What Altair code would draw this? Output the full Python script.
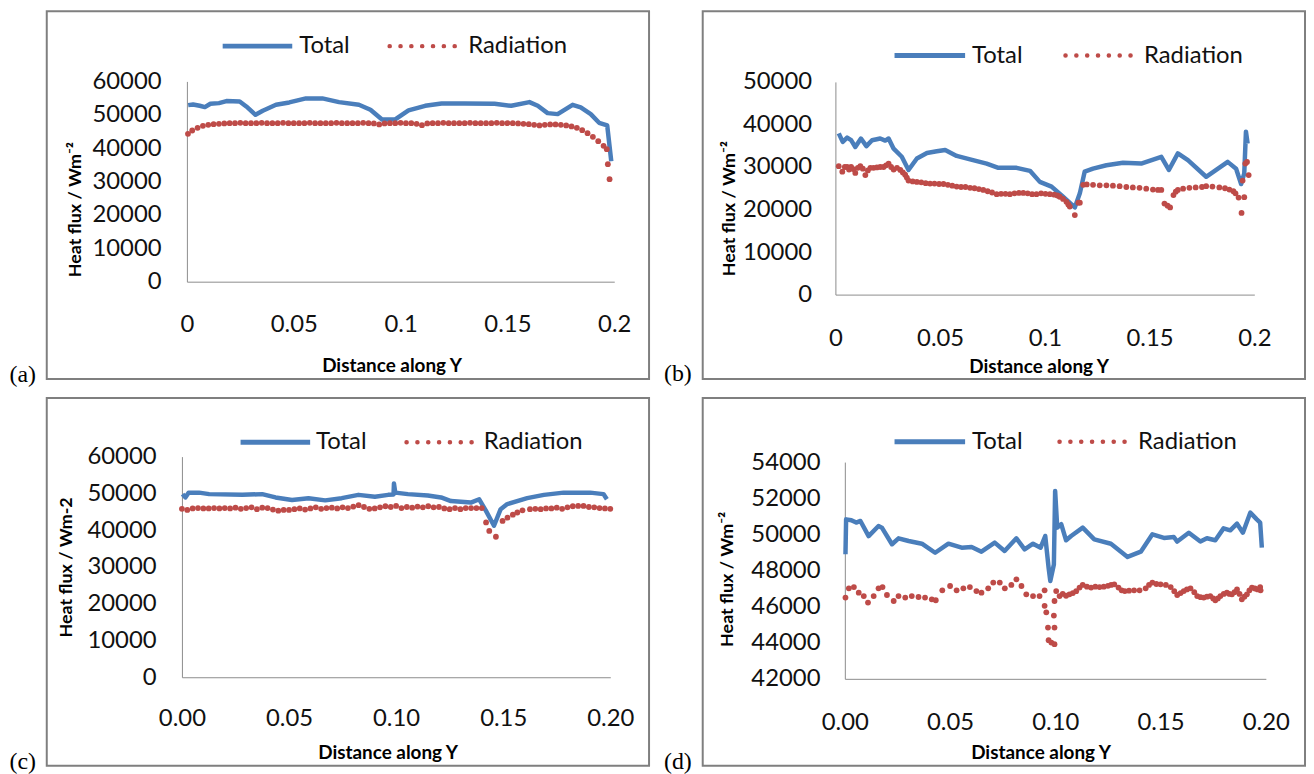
import altair as alt
import pandas as pd

BLUE = "#4A7EBB"
RED = "#BE4B48"
AXC = "#8C8C8C"
FONT = "Lato"

# ---------------- data (x = distance along Y, y = heat flux) ----------------
total_a = [(0.0006, 52900), (0.0029, 53100), (0.0060, 52700), (0.0084, 52300), (0.0110, 53300),
           (0.0150, 53500), (0.0185, 54100), (0.0247, 54000), (0.0278, 52500), (0.0321, 50000),
           (0.0355, 51200), (0.0417, 53000), (0.0479, 53700), (0.0557, 54900), (0.0634, 54900),
           (0.0712, 53800), (0.0805, 53000), (0.0859, 51500), (0.0913, 48600), (0.0975, 48600),
           (0.1037, 51300), (0.1115, 52700), (0.1192, 53400), (0.1300, 53400), (0.1440, 53300),
           (0.1518, 52700), (0.1603, 53800), (0.1642, 52700), (0.1688, 50500), (0.1735, 50200),
           (0.1805, 53000), (0.1843, 52200), (0.1890, 50200), (0.1929, 47600), (0.1967, 46800),
           (0.1986, 36100)]

rad_a = [(0.0005, 44300), (0.0025, 45300), (0.0050, 46100), (0.0075, 46700), (0.0100, 47000),
         (0.0125, 47200), (0.0150, 47300), (0.0175, 47400), (0.0200, 47500), (0.0225, 47500),
         (0.0250, 47600), (0.0275, 47500), (0.0300, 47500), (0.0325, 47500), (0.0350, 47600),
         (0.0375, 47500), (0.0400, 47500), (0.0425, 47500), (0.0450, 47600), (0.0475, 47500),
         (0.0500, 47500), (0.0525, 47500), (0.0550, 47500), (0.0575, 47600), (0.0600, 47500),
         (0.0625, 47500), (0.0650, 47500), (0.0675, 47500), (0.0700, 47600), (0.0725, 47500),
         (0.0750, 47500), (0.0775, 47500), (0.0800, 47500), (0.0825, 47600), (0.0850, 47500),
         (0.0875, 47400), (0.0900, 47100), (0.0925, 47400), (0.0950, 47500), (0.0975, 47500),
         (0.1000, 47600), (0.1025, 47500), (0.1050, 47500), (0.1075, 47300), (0.1100, 46900),
         (0.1125, 47400), (0.1150, 47500), (0.1175, 47500), (0.1200, 47600), (0.1225, 47500),
         (0.1250, 47500), (0.1275, 47500), (0.1300, 47500), (0.1325, 47600), (0.1350, 47500),
         (0.1375, 47500), (0.1400, 47500), (0.1425, 47500), (0.1450, 47600), (0.1475, 47500),
         (0.1500, 47500), (0.1525, 47500), (0.1550, 47400), (0.1575, 47300), (0.1600, 47200),
         (0.1625, 47000), (0.1650, 46800), (0.1675, 47000), (0.1700, 47100), (0.1725, 47100),
         (0.1750, 47000), (0.1775, 46800), (0.1800, 46500), (0.1825, 46100), (0.1850, 45400),
         (0.1875, 44500), (0.1900, 43400), (0.1925, 42100), (0.1950, 40700), (0.1965, 39700),
         (0.1970, 35200), (0.1978, 30700)]

total_b = [(0.0016, 37900), (0.0035, 35900), (0.0056, 36900), (0.0075, 36300), (0.0095, 34700),
           (0.0122, 36700), (0.0148, 34900), (0.0175, 36300), (0.0214, 36700), (0.0238, 36200),
           (0.0254, 36700), (0.0278, 34300), (0.0317, 32400), (0.0349, 29300), (0.0389, 32000),
           (0.0437, 33300), (0.0484, 33700), (0.0524, 34000), (0.0579, 32600), (0.0643, 31800),
           (0.0722, 30800), (0.0778, 29800), (0.0865, 29800), (0.0929, 29100), (0.0976, 26500),
           (0.1032, 25400), (0.1087, 23000), (0.1143, 20500), (0.1167, 23800), (0.1190, 28900),
           (0.1230, 29600), (0.1294, 30400), (0.1373, 31000), (0.1460, 30800), (0.1556, 32400),
           (0.1592, 29300), (0.1635, 33200), (0.1683, 31600), (0.1770, 27700), (0.1818, 29300),
           (0.1873, 31200), (0.1913, 29600), (0.1937, 26000), (0.1952, 28500), (0.1960, 38300),
           (0.1968, 35500)]

rad_b = [(0.0016, 30200), (0.0033, 28900), (0.0045, 30000), (0.0056, 30000), (0.0065, 29400),
         (0.0075, 30000), (0.0085, 29500), (0.0095, 28600), (0.0107, 29800), (0.0119, 30200),
         (0.0131, 29600), (0.0143, 28100), (0.0155, 29200), (0.0167, 29800), (0.0182, 29800),
         (0.0198, 29900), (0.0214, 30000), (0.0230, 30000), (0.0242, 30400), (0.0254, 30800),
         (0.0266, 30000), (0.0278, 29400), (0.0294, 29800), (0.0310, 29300), (0.0322, 28700),
         (0.0333, 28200), (0.0341, 27500), (0.0349, 26800), (0.0369, 26600), (0.0389, 26500),
         (0.0410, 26400), (0.0431, 26200), (0.0452, 26100), (0.0473, 26100), (0.0495, 26000),
         (0.0516, 26000), (0.0537, 25800), (0.0558, 25600), (0.0579, 25400), (0.0600, 25300),
         (0.0621, 25300), (0.0643, 25100), (0.0664, 25000), (0.0685, 24800), (0.0706, 24600),
         (0.0727, 24300), (0.0748, 24000), (0.0770, 23600), (0.0791, 23700), (0.0812, 23700),
         (0.0833, 23600), (0.0855, 23800), (0.0876, 23900), (0.0897, 23900), (0.0918, 23800),
         (0.0939, 23600), (0.0960, 23600), (0.0982, 23800), (0.1003, 23700), (0.1024, 23600),
         (0.1045, 23500), (0.1060, 23300), (0.1071, 23000), (0.1087, 22500), (0.1103, 21800),
         (0.1112, 21200), (0.1119, 20700), (0.1143, 18700), (0.1160, 21600), (0.1167, 21600),
         (0.1183, 25800), (0.1200, 25900), (0.1230, 25800), (0.1262, 25700), (0.1294, 25700),
         (0.1325, 25600), (0.1357, 25500), (0.1389, 25300), (0.1420, 25200), (0.1452, 25100),
         (0.1484, 24900), (0.1516, 24700), (0.1540, 24600), (0.1556, 24600), (0.1571, 21400),
         (0.1586, 20900), (0.1598, 20500), (0.1614, 23400), (0.1625, 24200), (0.1635, 24600),
         (0.1660, 24900), (0.1690, 25100), (0.1720, 25200), (0.1750, 25300), (0.1770, 25500),
         (0.1800, 25400), (0.1833, 25200), (0.1860, 25000), (0.1881, 24700), (0.1900, 24300),
         (0.1910, 23800), (0.1925, 22800), (0.1939, 19200), (0.1944, 26800), (0.1952, 22900),
         (0.1957, 30800), (0.1965, 31200), (0.1973, 28100)]

total_c = [(0.0003, 49800), (0.0016, 48900), (0.0031, 50200), (0.0080, 50200), (0.0127, 49800),
           (0.0282, 49600), (0.0375, 49800), (0.0437, 48900), (0.0514, 48200), (0.0591, 48700),
           (0.0669, 48100), (0.0746, 48700), (0.0824, 49600), (0.0901, 49100), (0.0963, 49600),
           (0.0988, 49700), (0.0990, 52700), (0.0996, 50200), (0.1055, 49800), (0.1148, 49400),
           (0.1210, 48900), (0.1256, 47900), (0.1349, 47500), (0.1388, 48400), (0.1419, 45300),
           (0.1457, 41200), (0.1488, 45700), (0.1519, 47100), (0.1612, 48700), (0.1690, 49600),
           (0.1782, 50200), (0.1906, 50200), (0.1968, 49800), (0.1984, 48400)]

rad_c = [(0.0000, 45800), (0.0025, 45500), (0.0050, 45900), (0.0075, 46000), (0.0100, 45900),
         (0.0125, 45900), (0.0150, 46000), (0.0175, 45900), (0.0200, 46000), (0.0225, 45900),
         (0.0250, 46100), (0.0275, 45800), (0.0300, 46000), (0.0325, 46200), (0.0350, 45700),
         (0.0375, 46100), (0.0400, 46000), (0.0425, 45600), (0.0450, 45300), (0.0475, 45500),
         (0.0500, 45500), (0.0525, 45700), (0.0550, 45900), (0.0575, 45600), (0.0600, 45900),
         (0.0625, 46200), (0.0650, 45800), (0.0675, 46000), (0.0700, 46100), (0.0725, 45900),
         (0.0750, 46200), (0.0775, 46000), (0.0800, 46400), (0.0825, 46800), (0.0850, 46300),
         (0.0875, 45800), (0.0900, 45900), (0.0925, 46200), (0.0950, 46500), (0.0975, 46300),
         (0.1000, 46600), (0.1025, 46000), (0.1050, 46300), (0.1075, 46100), (0.1100, 46400),
         (0.1125, 46200), (0.1150, 46500), (0.1175, 46200), (0.1200, 46300), (0.1225, 45900),
         (0.1250, 45700), (0.1275, 46000), (0.1300, 45700), (0.1325, 46000), (0.1350, 46000),
         (0.1375, 46000), (0.1400, 46000), (0.1420, 42100), (0.1435, 39800), (0.1466, 38200),
         (0.1497, 42500), (0.1520, 43400), (0.1545, 44200), (0.1566, 44800), (0.1590, 45400),
         (0.1625, 45700), (0.1650, 45800), (0.1675, 45700), (0.1700, 45900), (0.1725, 45900),
         (0.1750, 46100), (0.1775, 45800), (0.1800, 46200), (0.1825, 46500), (0.1850, 46600),
         (0.1875, 46600), (0.1900, 46300), (0.1925, 46200), (0.1950, 46000), (0.1975, 45900),
         (0.2000, 45800)]

total_d = [(0.0003, 48900), (0.0006, 50830), (0.0031, 50780), (0.0054, 50650), (0.0074, 50740),
           (0.0113, 49900), (0.0160, 50460), (0.0176, 50370), (0.0224, 49450), (0.0255, 49780),
           (0.0303, 49630), (0.0366, 49480), (0.0429, 48980), (0.0492, 49480), (0.0555, 49260),
           (0.0602, 49300), (0.0649, 49040), (0.0712, 49540), (0.0759, 49080), (0.0815, 49780),
           (0.0854, 49170), (0.0894, 49480), (0.0930, 49260), (0.0952, 49910), (0.0968, 48150),
           (0.0976, 47420), (0.0993, 48330), (0.0999, 52400), (0.1009, 50370), (0.1028, 50560),
           (0.1051, 49670), (0.1075, 49910), (0.1130, 50370), (0.1185, 49720), (0.1264, 49480),
           (0.1343, 48750), (0.1406, 49040), (0.1461, 50000), (0.1516, 49800), (0.1563, 49850),
           (0.1579, 49600), (0.1634, 50090), (0.1689, 49600), (0.1720, 49780), (0.1760, 49670),
           (0.1799, 50330), (0.1831, 50220), (0.1863, 50590), (0.1891, 50090), (0.1926, 51200),
           (0.1957, 50830), (0.1973, 50650), (0.1981, 49260)]

rad_d = [(0.0003, 46500), (0.0019, 47010), (0.0043, 47080), (0.0066, 46770), (0.0090, 46580),
         (0.0110, 46220), (0.0137, 46580), (0.0160, 47010), (0.0179, 47080), (0.0200, 46640),
         (0.0232, 46310), (0.0255, 46580), (0.0287, 46500), (0.0318, 46580), (0.0350, 46530),
         (0.0381, 46500), (0.0413, 46400), (0.0432, 46350), (0.0463, 46900), (0.0500, 47140),
         (0.0531, 46900), (0.0563, 47010), (0.0594, 47080), (0.0625, 46860), (0.0649, 46770),
         (0.0681, 47010), (0.0705, 47330), (0.0736, 47330), (0.0760, 47010), (0.0791, 47200),
         (0.0815, 47510), (0.0839, 47140), (0.0862, 46680), (0.0894, 46580), (0.0925, 46580),
         (0.0949, 46900), (0.0949, 46040), (0.0957, 45680), (0.0965, 44840), (0.0968, 44140),
         (0.0981, 44010), (0.0996, 43920), (0.0996, 44840), (0.0993, 45500), (0.0996, 46310),
         (0.1004, 46860), (0.1020, 46580), (0.1035, 46700), (0.1051, 46600), (0.1067, 46680),
         (0.1083, 46750), (0.1099, 46850), (0.1115, 47050), (0.1130, 47200), (0.1150, 47100),
         (0.1170, 47050), (0.1190, 47100), (0.1210, 47080), (0.1230, 47100), (0.1250, 47150),
         (0.1265, 47200), (0.1280, 47230), (0.1300, 47050), (0.1315, 46900), (0.1330, 46860),
         (0.1350, 46880), (0.1374, 46900), (0.1400, 46900), (0.1429, 47010), (0.1445, 47200),
         (0.1461, 47330), (0.1480, 47250), (0.1500, 47230), (0.1525, 47200), (0.1548, 47080),
         (0.1565, 46850), (0.1579, 46640), (0.1595, 46750), (0.1610, 46860), (0.1625, 46950),
         (0.1642, 47010), (0.1660, 46800), (0.1674, 46580), (0.1690, 46520), (0.1705, 46500),
         (0.1720, 46550), (0.1736, 46580), (0.1750, 46450), (0.1760, 46350), (0.1772, 46450),
         (0.1784, 46580), (0.1800, 46700), (0.1815, 46770), (0.1827, 46700), (0.1839, 46680),
         (0.1851, 46800), (0.1863, 46950), (0.1875, 46700), (0.1886, 46400), (0.1898, 46550),
         (0.1910, 46680), (0.1922, 46900), (0.1934, 47050), (0.1948, 47000), (0.1961, 46950),
         (0.1973, 47080), (0.1975, 46900)]

x_ticks = [0, 0.05, 0.1, 0.15, 0.2]
y_ticks_a = [0, 10000, 20000, 30000, 40000, 50000, 60000]
y_ticks_b = [0, 10000, 20000, 30000, 40000, 50000]
y_ticks_c = [0, 10000, 20000, 30000, 40000, 50000, 60000]
y_ticks_d = [42000, 44000, 46000, 48000, 50000, 52000, 54000]

series_names = ["Total", "Radiation"]
x_title = "Distance along Y"
y_title_sup = "Heat flux / Wm\u207b\u00b2"
y_title_plain = "Heat flux / Wm-2"
panel_labels = ["(a)", "(b)", "(c)", "(d)"]

# ---------------- layout (pixels inside each bordered box) ----------------
W, H = 606, 370

layouts = {
    "a": dict(xr=[141, 571], yr=[272, 70.5], xlp=43, ylp=26, xt=(347, 356.5), yt=(29, 199),
              leg_y=35, lb=(177, 247), lt=254, lr=(345, 411), lrt=424, lab=(-37.5, 365.5)),
    "b": dict(xr=[133.5, 555], yr=[285, 71], xlp=44, ylp=24, xt=(338, 357), yt=(27, 198),
              leg_y=44.5, lb=(193, 264), lt=271, lr=(365, 432), lrt=444, lab=(-39, 365)),
    "c": dict(xr=[136, 567], yr=[281, 59], xlp=42, ylp=26, xt=(343, 357), yt=(19.6, 170),
              leg_y=44.5, lb=(195, 265), lt=271, lr=(362, 429), lrt=439.6, lab=(-37.5, 366)),
    "d": dict(xr=[143, 566.6], yr=[282.6, 64.5], xlp=43.5, ylp=25, xt=(340, 357), yt=(25, 182),
              leg_y=44, lb=(193, 264), lt=271, lr=(359, 425), lrt=438, lab=(-39, 366)),
}


def panel(total, rad, key, ydom, yticks, xfmt, ytitle, label):
    L = layouts[key]
    tdf = pd.DataFrame(total, columns=["x", "y"])
    tdf["i"] = range(len(tdf))
    rdf = pd.DataFrame(rad, columns=["x", "y"])

    xs = alt.Scale(domain=[0, 0.2], range=L["xr"], nice=False, zero=False)
    ys = alt.Scale(domain=ydom, range=L["yr"], nice=False, zero=False)
    xax = alt.Axis(values=x_ticks, format=xfmt, title=x_title, orient="bottom",
                   offset=L["yr"][0] - H, grid=False, ticks=False, tickSize=0,
                   domainColor=AXC, domainWidth=1, labelFont=FONT, labelFontSize=24,
                   labelColor="#111111", labelPadding=L["xlp"], labelBaseline="middle",
                   labelFlush=False, labelOverlap=False, titleFont=FONT, titleFontSize=19,
                   titleFontWeight="bold", titleColor="#000000", titleX=L["xt"][0],
                   titleY=L["xt"][1] - L["yr"][0], titleAlign="center",
                   titleBaseline="middle", titleAngle=0)
    yax = alt.Axis(values=yticks, format="d", title=ytitle, orient="left",
                   offset=-L["xr"][0], grid=False, ticks=False, tickSize=0,
                   domainColor=AXC, domainWidth=1, labelFont=FONT, labelFontSize=24,
                   labelColor="#111111", labelPadding=L["ylp"], labelBaseline="middle",
                   labelFlush=False, labelOverlap=False, titleFont=FONT, titleFontSize=18,
                   titleFontWeight="bold", titleColor="#000000",
                   titleX=L["yt"][0] - L["xr"][0], titleY=L["yt"][1], titleAlign="center",
                   titleBaseline="middle", titleAngle=270)

    line = alt.Chart(tdf).mark_line(color=BLUE, strokeWidth=4.5, strokeJoin="round").encode(
        x=alt.X("x:Q", scale=xs, axis=xax),
        y=alt.Y("y:Q", scale=ys, axis=yax),
        order="i:Q",
    )
    dots = alt.Chart(rdf).mark_circle(color=RED, size=34, opacity=1).encode(
        x=alt.X("x:Q", scale=xs),
        y=alt.Y("y:Q", scale=ys),
    )

    one = pd.DataFrame({"k": [0]})
    ly = L["leg_y"]
    leg_line = alt.Chart(one).mark_rule(color=BLUE, strokeWidth=5).encode(
        x=alt.value(L["lb"][0]), x2=alt.value(L["lb"][1]), y=alt.value(ly))
    leg_dots = alt.Chart(one).mark_rule(color=RED, strokeWidth=4.5, strokeDash=[0.1, 10.8],
                                        strokeCap="round").encode(
        x=alt.value(L["lr"][0]), x2=alt.value(L["lr"][1]), y=alt.value(ly))
    leg_t1 = alt.Chart(one).mark_text(font=FONT, fontSize=24, align="left", baseline="middle",
                                      color="#111111").encode(
        x=alt.value(L["lt"]), y=alt.value(ly), text=alt.value(series_names[0]))
    leg_t2 = alt.Chart(one).mark_text(font=FONT, fontSize=24, align="left", baseline="middle",
                                      color="#111111").encode(
        x=alt.value(L["lrt"]), y=alt.value(ly), text=alt.value(series_names[1]))
    tag = alt.Chart(one).mark_text(font="Liberation Serif", fontSize=24, align="left",
                                   baseline="middle", color="#000000").encode(
        x=alt.value(L["lab"][0]), y=alt.value(L["lab"][1]), text=alt.value(label))

    return alt.layer(line, dots, leg_line, leg_dots, leg_t1, leg_t2, tag).properties(
        width=W, height=H)


pa = panel(total_a, rad_a, "a", [0, 60000], y_ticks_a, "~g", y_title_sup, panel_labels[0])
pb = panel(total_b, rad_b, "b", [0, 50000], y_ticks_b, "~g", y_title_sup, panel_labels[1])
pc = panel(total_c, rad_c, "c", [0, 60000], y_ticks_c, ".2f", y_title_plain, panel_labels[2])
pd_ = panel(total_d, rad_d, "d", [42000, 54000], y_ticks_d, ".2f", y_title_sup, panel_labels[3])

chart = alt.concat(pa, pb, pc, pd_, columns=2, spacing={"row": 19, "column": 54},
                   bounds="flush").properties(
    padding=0, background="white"
).configure_view(stroke="#7F7F7F", strokeWidth=2)

chart.save("out.html", embed_options={"renderer": "svg", "actions": False})
